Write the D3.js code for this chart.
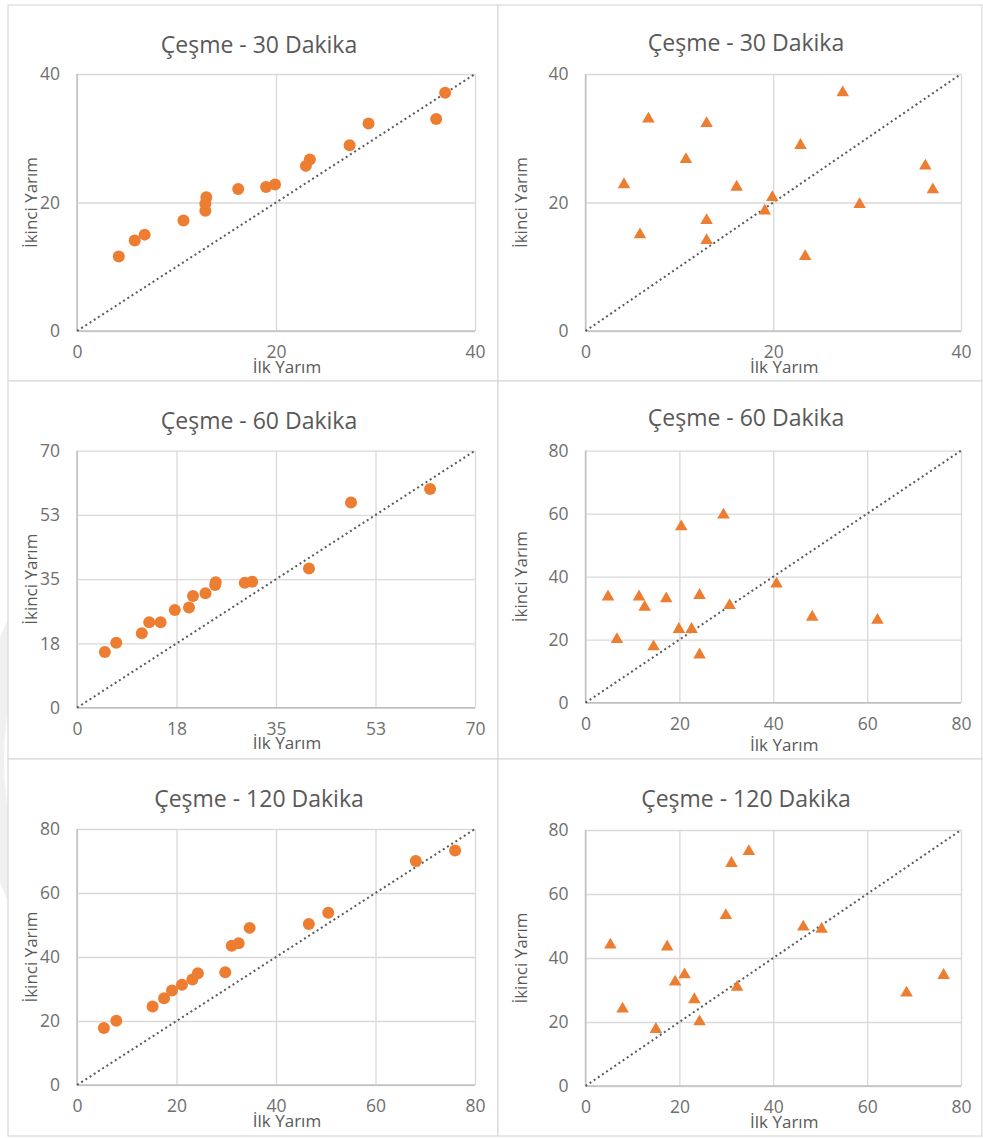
<html>
<head>
    <meta charset="utf-8">
    <script src="https://d3js.org/d3.v7.min.js"></script>
    <style>
        body { margin: 0; background: #fff; }
        text { font-family: "Open Sans", "Noto Sans", sans-serif; fill: #595959; }
        .grid line { stroke: #d9d9d9; stroke-width: 1.3; }
        .grid .domain { stroke: none; }
        .tick-labels line { stroke: none; }
        .tick-labels .domain { stroke: none; }
    </style>
</head>
<body>
<svg id="chart" width="983" height="1138"></svg>
<script>

    // titles and axis info for the six panels (row by row, left then right)
    const titles = ["Çeşme - 30 Dakika", "Çeşme - 30 Dakika",
                    "Çeşme - 60 Dakika", "Çeşme - 60 Dakika",
                    "Çeşme - 120 Dakika", "Çeşme - 120 Dakika"];
    const axisMax = [40, 40, 70, 80, 80, 80];
    const tickSets = [
        [0, 20, 40], [0, 20, 40],
        [0, 17.5, 35, 52.5, 70], [0, 20, 40, 60, 80],
        [0, 20, 40, 60, 80], [0, 20, 40, 60, 80]
    ];
    const xLabel = "İlk Yarım";
    const yLabel = "İkinci Yarım";

    // 30 dakika
    const ilk30 = [4.2, 5.8, 6.8, 10.7, 12.9, 12.9, 13.0, 16.2, 19.0, 19.9, 23.0, 23.4, 27.4, 29.3, 36.1, 37.0];
    const ikinci30 = [11.6, 14.1, 15.0, 17.2, 18.7, 19.8, 20.8, 22.1, 22.4, 22.8, 25.7, 26.7, 28.9, 32.3, 33.0, 37.1];
    const ilk30b = [6.7, 12.9, 10.7, 4.1, 16.1, 5.8, 12.9, 12.9, 19.1, 19.9, 22.9, 27.4, 36.2, 37.0, 29.2, 23.4];
    const ikinci30b = [33.0, 32.3, 26.7, 22.8, 22.4, 15.0, 17.2, 14.1, 18.7, 20.8, 28.9, 37.1, 25.7, 22.0, 19.7, 11.6];

    // 60 dakika
    const ilk60 = [4.9, 6.9, 11.4, 12.7, 14.7, 17.2, 19.7, 20.4, 22.6, 24.3, 24.4, 29.5, 30.8, 40.8, 48.2, 62.1];
    const ikinci60 = [15.2, 17.7, 20.3, 23.3, 23.3, 26.6, 27.3, 30.4, 31.2, 33.4, 34.2, 34.0, 34.3, 37.9, 55.9, 59.6];
    const ilk60b = [4.8, 6.7, 11.4, 12.6, 14.5, 17.2, 19.9, 20.4, 22.6, 24.3, 24.3, 29.4, 30.7, 40.7, 48.3, 62.2];
    const ikinci60b = [33.6, 20.1, 33.6, 30.3, 17.8, 33.0, 23.3, 55.9, 23.3, 34.1, 15.2, 59.6, 30.9, 37.7, 27.2, 26.2];

    // 120 dakika
    const ilk120 = [5.4, 7.9, 15.2, 17.5, 19.1, 21.1, 23.2, 24.3, 29.8, 31.1, 32.5, 34.7, 46.6, 50.5, 68.1, 76.0];
    const ikinci120 = [17.8, 20.1, 24.5, 27.1, 29.5, 31.3, 33.0, 34.9, 35.2, 43.5, 44.3, 49.1, 50.3, 53.8, 70.0, 73.3];
    const ilk120b = [5.3, 7.9, 15.0, 17.4, 19.1, 21.1, 23.2, 24.3, 29.9, 31.1, 32.3, 34.8, 46.4, 50.3, 68.4, 76.3];
    const ikinci120b = [44.1, 24.1, 17.7, 43.5, 32.5, 34.8, 27.0, 20.1, 53.3, 69.6, 30.9, 73.3, 49.7, 49.0, 29.1, 34.6];

    const seriesX = [ilk30, ilk30b, ilk60, ilk60b, ilk120, ilk120b];
    const seriesY = [ikinci30, ikinci30b, ikinci60, ikinci60b, ikinci120, ikinci120b];

    // page layout
    const boxCols = [[8, 498], [498, 982]];
    const boxRows = [[5, 381], [381, 759], [759, 1136]];
    const plotCols = [[77, 475], [585.5, 961]];
    const plotRows = [
        [[74, 331], [74, 331]],
        [[450.7, 707.7], [450.7, 702.7]],
        [[829, 1085], [830, 1086]]
    ];
    const titleY = [[44, 42], [420, 417], [798, 798]];
    const xTitleGap = [[35, 35], [35, 42], [35, 35]];

    const orange = "#ED7D31";
    const svg = d3.select("#chart");

    // faint watermark arc on the left edge
    svg.append("circle")
        .attr("cx", 300).attr("cy", 760).attr("r", 310)
        .attr("fill", "none")
        .attr("stroke", "#f0f0f0")
        .attr("stroke-width", 28);
    svg.append("rect").attr("x", 8).attr("y", 0).attr("width", 975).attr("height", 1138).attr("fill", "#fff");

    for (let i = 0; i < 6; i++) {
        const row = Math.floor(i / 2);
        const col = i % 2;
        const [bx0, bx1] = boxCols[col];
        const [by0, by1] = boxRows[row];
        const [px0, px1] = plotCols[col];
        const [py0, py1] = plotRows[row][col];
        const w = px1 - px0;
        const h = py1 - py0;

        const panel = svg.append("g").attr("class", "panel");

        panel.append("rect")
            .attr("x", bx0).attr("y", by0)
            .attr("width", bx1 - bx0).attr("height", by1 - by0)
            .attr("fill", "#fff")
            .attr("stroke", "#d9d9d9")
            .attr("stroke-width", 1.2);

        const xScale = d3.scaleLinear().domain([0, axisMax[i]]).range([px0, px1]);
        const yScale = d3.scaleLinear().domain([0, axisMax[i]]).range([py1, py0]);
        const fmt = d3.format(".0f");

        // gridlines (also give the frame)
        panel.append("g")
            .attr("class", "grid")
            .attr("transform", "translate(0," + py1 + ")")
            .call(d3.axisBottom(xScale).tickValues(tickSets[i]).tickSize(-h).tickFormat(""));
        panel.append("g")
            .attr("class", "grid")
            .attr("transform", "translate(" + px0 + ",0)")
            .call(d3.axisLeft(yScale).tickValues(tickSets[i]).tickSize(-w).tickFormat(""));

        // darker bottom and left axis lines
        panel.append("line")
            .attr("x1", px0).attr("x2", px1).attr("y1", py1).attr("y2", py1)
            .attr("stroke", "#bfbfbf").attr("stroke-width", 1.4);
        panel.append("line")
            .attr("x1", px0).attr("x2", px0).attr("y1", py0).attr("y2", py1)
            .attr("stroke", "#bfbfbf").attr("stroke-width", 1.4);

        // tick labels
        const bottomLabels = panel.append("g")
            .attr("class", "tick-labels")
            .attr("transform", "translate(0," + py1 + ")")
            .call(d3.axisBottom(xScale).tickValues(tickSets[i]).tickSize(0).tickPadding(15).tickFormat(fmt));
        bottomLabels.selectAll("text").style("font-size", "17.5px").style("fill", "#6f6f6f");

        const leftLabels = panel.append("g")
            .attr("class", "tick-labels")
            .attr("transform", "translate(" + px0 + ",0)")
            .call(d3.axisLeft(yScale).tickValues(tickSets[i]).tickSize(0).tickPadding(17).tickFormat(fmt));
        leftLabels.selectAll("text").style("font-size", "17.5px").style("fill", "#6f6f6f");

        // diagonal y = x, dotted
        panel.append("line")
            .attr("x1", xScale(0)).attr("y1", yScale(0))
            .attr("x2", xScale(axisMax[i])).attr("y2", yScale(axisMax[i]))
            .attr("stroke", "#595959")
            .attr("stroke-width", 2)
            .attr("stroke-dasharray", "2 3");

        // points
        const pts = seriesX[i].map((v, k) => ({ x: v, y: seriesY[i][k] }));
        if (col === 0) {
            panel.selectAll("circle.pt").data(pts)
                .join("circle")
                .attr("class", "pt")
                .attr("cx", d => xScale(d.x))
                .attr("cy", d => yScale(d.y))
                .attr("r", 6)
                .attr("fill", orange);
        } else {
            const tri = d3.symbol().type(d3.symbolTriangle).size(68);
            panel.selectAll("path.pt").data(pts)
                .join("path")
                .attr("class", "pt")
                .attr("d", tri)
                .attr("transform", d => "translate(" + xScale(d.x) + "," + yScale(d.y) + ")")
                .attr("fill", orange);
        }

        // titles
        panel.append("text")
            .attr("x", (bx0 + bx1) / 2 + 6)
            .attr("y", titleY[row][col])
            .attr("text-anchor", "middle")
            .attr("dominant-baseline", "central")
            .style("font-size", "23px")
            .text(titles[i]);

        panel.append("text")
            .attr("x", (px0 + px1) / 2 + 11)
            .attr("y", py1 + xTitleGap[row][col])
            .attr("text-anchor", "middle")
            .attr("dominant-baseline", "central")
            .style("font-size", "17px")
            .text(xLabel);

        panel.append("text")
            .attr("transform", "translate(" + (bx0 + 22) + "," + ((py0 + py1) / 2) + ") rotate(-90)")
            .attr("text-anchor", "middle")
            .attr("dominant-baseline", "central")
            .style("font-size", "17px")
            .text(yLabel);
    }

</script>
</body>
</html>
